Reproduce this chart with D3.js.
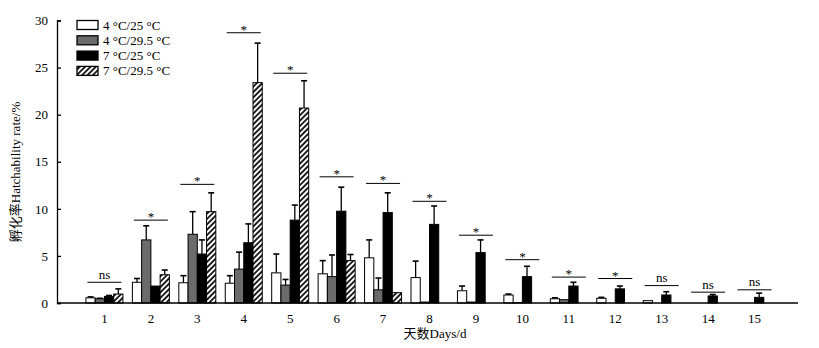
<!DOCTYPE html>
<html>
<head>
<meta charset="utf-8">
<script src="https://cdn.jsdelivr.net/npm/d3@7"></script>
<style>
  body { margin: 0; background: #fff; }
  svg text { font-family: "Liberation Serif", "Noto Sans CJK SC", serif; fill: #000; }
</style>
</head>
<body>
<div id="chart"></div>
<script>
// data
const days = [1, 2, 3, 4, 5, 6, 7, 8, 9, 10, 11, 12, 13, 14, 15];
const seriesNames = ["4 °C/25 °C", "4 °C/29.5 °C", "7 °C/25 °C", "7 °C/29.5 °C"];
const mean4_25 = [0.55, 2.2, 2.15, 2.1, 3.2, 3.1, 4.8, 2.7, 1.3, 0.85, 0.45, 0.5, 0.25, 0, 0];
const err4_25 = [0.1, 0.4, 0.75, 0.8, 2.0, 1.4, 1.9, 1.75, 0.5, 0.1, 0.1, 0.1, 0, 0, 0];
const mean4_295 = [0.45, 6.7, 7.3, 3.6, 1.9, 2.8, 1.4, 0.1, 0.1, 0.05, 0.35, 0, 0, 0, 0];
const err4_295 = [0.05, 1.5, 2.4, 1.8, 0.6, 2.3, 1.25, 0, 0, 0, 0, 0, 0, 0, 0];
const mean7_25 = [0.7, 1.8, 5.2, 6.4, 8.8, 9.75, 9.6, 8.35, 5.35, 2.8, 1.8, 1.5, 0.85, 0.75, 0.6];
const err7_25 = [0.1, 0, 1.5, 2.0, 1.6, 2.55, 2.1, 1.95, 1.35, 1.1, 0.4, 0.3, 0.35, 0.15, 0.45];
const mean7_295 = [0.95, 3.0, 9.7, 23.4, 20.7, 4.5, 1.1, 0, 0, 0, 0, 0, 0, 0, 0];
const err7_295 = [0.55, 0.5, 2.0, 4.2, 2.9, 0.65, 0, 0, 0, 0, 0, 0, 0, 0, 0];
const sigLevel = [2.2, 8.8, 12.6, 28.7, 24.4, 13.4, 12.7, 10.8, 7.2, 4.6, 2.75, 2.6, 1.85, 1.15, 1.4];
const sigText = ["ns", "*", "*", "*", "*", "*", "*", "*", "*", "*", "*", "*", "ns", "ns", "ns"];
const yTicks = [0, 5, 10, 15, 20, 25, 30];

const means = [mean4_25, mean4_295, mean7_25, mean7_295];
const errs = [err4_25, err4_295, err7_25, err7_295];
const fills = ["#fff", "#6b6b6b", "#000", "url(#hatch)"];

const width = 819, height = 348;
const svg = d3.select("#chart").append("svg")
  .attr("width", width).attr("height", height);

const defs = svg.append("defs");
const pat = defs.append("pattern")
  .attr("id", "hatch")
  .attr("patternUnits", "userSpaceOnUse")
  .attr("width", 3.8).attr("height", 3.8)
  .attr("patternTransform", "rotate(45)");
pat.append("rect").attr("width", 3.8).attr("height", 3.8).attr("fill", "#fff");
pat.append("line").attr("x1", 1).attr("x2", 1).attr("y1", 0).attr("y2", 3.8)
  .attr("stroke", "#000").attr("stroke-width", 1.7);

const axisX = 57;
const x = d3.scaleLinear().domain([0, 16]).range([58, 801]);
const y = d3.scaleLinear().domain([0, 30]).range([303, 20.5]);
const sub = d3.scaleBand().domain(d3.range(4)).range([-18.5, 18.5]);

// rows for bars
const rows = [];
days.forEach((d, i) => {
  for (let s = 0; s < 4; s++) rows.push({ day: d, s, v: means[s][i], e: errs[s][i] });
});

// error bars (behind bars)
const eb = svg.append("g");
rows.filter(r => r.e > 0).forEach(r => {
  const cx = x(r.day) + sub(r.s) + sub.bandwidth() / 2;
  eb.append("line").attr("x1", cx).attr("x2", cx)
    .attr("y1", y(r.v)).attr("y2", y(r.v + r.e))
    .attr("stroke", "#000").attr("stroke-width", 1.3);
  eb.append("line").attr("x1", cx - 3).attr("x2", cx + 3)
    .attr("y1", y(r.v + r.e)).attr("y2", y(r.v + r.e))
    .attr("stroke", "#000").attr("stroke-width", 1.6);
});

// bars
svg.append("g").selectAll("rect")
  .data(rows.filter(r => r.v > 0))
  .join("rect")
  .attr("x", r => x(r.day) + sub(r.s))
  .attr("y", r => y(r.v))
  .attr("width", sub.bandwidth())
  .attr("height", r => y(0) - y(r.v))
  .attr("fill", r => fills[r.s])
  .attr("stroke", "#000")
  .attr("stroke-width", 1);

// significance markers
const sig = svg.append("g");
days.forEach((d, i) => {
  sig.append("line")
    .attr("x1", x(d) - 17).attr("x2", x(d) + 17)
    .attr("y1", y(sigLevel[i])).attr("y2", y(sigLevel[i]))
    .attr("stroke", "#000").attr("stroke-width", 1);
  sig.append("text")
    .attr("x", x(d)).attr("y", y(sigLevel[i]) - (sigText[i] === "ns" ? 3.5 : -1))
    .attr("text-anchor", "middle")
    .style("font-size", "13px")
    .text(sigText[i]);
});

// y axis
const yAxis = svg.append("g")
  .attr("transform", `translate(${axisX},0)`)
  .call(d3.axisLeft(y).tickValues(yTicks).tickSize(-4).tickPadding(9));
yAxis.selectAll("path, line").attr("stroke", "#000").attr("stroke-width", 1.3);
yAxis.selectAll("text").style("font-size", "13px").attr("font-family", null);

// x axis
svg.append("line")
  .attr("x1", axisX).attr("x2", 798)
  .attr("y1", y(0)).attr("y2", y(0))
  .attr("stroke", "#000").attr("stroke-width", 1.5);
svg.append("g").selectAll("text")
  .data(days)
  .join("text")
  .attr("x", d => x(d))
  .attr("y", 323)
  .attr("text-anchor", "middle")
  .style("font-size", "13px")
  .text(d => d);

// axis titles
svg.append("text")
  .attr("x", 435).attr("y", 338)
  .attr("text-anchor", "middle")
  .style("font-size", "13px")
  .text("天数Days/d");
svg.append("text")
  .attr("transform", "translate(20,172) rotate(-90)")
  .attr("text-anchor", "middle")
  .style("font-size", "13px")
  .text("孵化率Hatchability rate/%");

// legend
const legend = svg.append("g");
seriesNames.forEach((name, s) => {
  const cy = 25 + s * 15.3;
  legend.append("rect")
    .attr("x", 77).attr("y", cy - 4.5)
    .attr("width", 21).attr("height", 9)
    .attr("fill", fills[s])
    .attr("stroke", "#000").attr("stroke-width", 1.3);
  legend.append("text")
    .attr("x", 103).attr("y", cy + 4.5)
    .style("font-size", "13px")
    .text(name);
});
</script>
</body>
</html>
